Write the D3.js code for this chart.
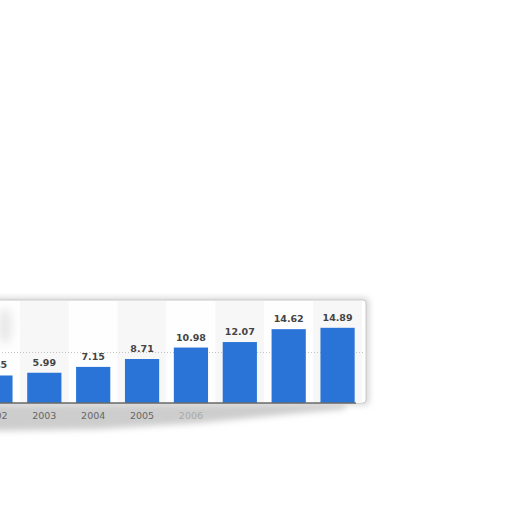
<!DOCTYPE html>
<html>
<head>
<meta charset="utf-8">
<script src="https://cdn.jsdelivr.net/npm/d3@7"></script>
<style>
  body { margin: 0; background: #fff; }
  svg { display: block; }
</style>
</head>
<body>
<div id="chart"></div>
<script>
var years = ['2002', '2003', '2004', '2005', '2006', '2007', '2008', '2009'];
var values = [5.45, 5.99, 7.15, 8.71, 10.98, 12.07, 14.62, 14.89];
var gridTicks = [10];

var width = 512, height = 512;

var svg = d3.select('#chart').append('svg')
    .attr('width', width)
    .attr('height', height);

var x = d3.scaleBand()
        .domain(years)
        .range([-29, 362])
        .paddingInner(0.3)
        .paddingOuter(0.15),
    y = d3.scaleLinear()
        .domain([0, 20])
        .range([403, 302]);

var defs = svg.append('defs');

defs.append('filter')
    .attr('id', 'blur')
    .attr('x', '-20%').attr('y', '-50%')
    .attr('width', '140%').attr('height', '200%')
  .append('feGaussianBlur')
    .attr('stdDeviation', 3);

defs.append('filter')
    .attr('id', 'soft')
    .attr('x', '-50%').attr('y', '-50%')
    .attr('width', '200%').attr('height', '200%')
  .append('feGaussianBlur')
    .attr('stdDeviation', 4);

// curled shadow under the panel
svg.append('path')
    .attr('d', 'M-10,404 L345,403 L345,409 L300,413 L200,423 L100,429 L-10,431 Z')
    .attr('fill', '#cdcdcd')
    .attr('filter', 'url(#blur)');

// panel shadow on top/right
svg.append('rect')
    .attr('x', -10).attr('y', 298)
    .attr('width', 379).attr('height', 107)
    .attr('rx', 4)
    .attr('fill', '#d4d4d4')
    .attr('filter', 'url(#blur)');

var panel = svg.append('g');

panel.append('rect')
    .attr('x', -10).attr('y', 300)
    .attr('width', 376).attr('height', 103)
    .attr('rx', 3)
    .attr('fill', '#fff')
    .attr('stroke', '#c9c9c9')
    .attr('stroke-width', 1);

// alternating column bands
var step = x.step();
panel.selectAll('.band')
    .data(years)
    .enter().append('rect')
    .attr('class', 'band')
    .attr('x', function(d) { return x(d) + x.bandwidth() / 2 - step / 2; })
    .attr('y', 301)
    .attr('width', step)
    .attr('height', 102)
    .attr('fill', function(d, i) { return i % 2 ? '#f7f7f7' : '#fefefe'; });

// faint blur top-left
panel.append('ellipse')
    .attr('cx', 5).attr('cy', 326)
    .attr('rx', 7).attr('ry', 18)
    .attr('fill', '#e8e8e8')
    .attr('filter', 'url(#soft)');

// gridline
panel.selectAll('.grid')
    .data(gridTicks)
    .enter().append('line')
    .attr('class', 'grid')
    .attr('x1', -10).attr('x2', 364)
    .attr('y1', function(d) { return y(d); })
    .attr('y2', function(d) { return y(d); })
    .attr('stroke', '#c4c4c4')
    .attr('stroke-dasharray', '1,2');

// bars
panel.selectAll('.bar')
    .data(values)
    .enter().append('rect')
    .attr('class', 'bar')
    .attr('x', function(d, i) { return x(years[i]); })
    .attr('y', function(d) { return y(d); })
    .attr('width', x.bandwidth())
    .attr('height', function(d) { return y(0) - y(d); })
    .attr('fill', '#2a74d8');

// value labels
panel.selectAll('.val')
    .data(values)
    .enter().append('text')
    .attr('class', 'val')
    .attr('x', function(d, i) { return x(years[i]) + x.bandwidth() / 2; })
    .attr('y', function(d) { return y(d) - 7; })
    .attr('text-anchor', 'middle')
    .style('font-family', 'DejaVu Sans, sans-serif')
    .style('font-size', '9.5px')
    .style('font-weight', 'bold')
    .style('fill', '#444')
    .text(function(d) { return d.toFixed(2); });

// baseline
panel.append('line')
    .attr('x1', -10).attr('x2', 356)
    .attr('y1', y(0)).attr('y2', y(0))
    .attr('stroke', '#6a6a6a')
    .attr('stroke-width', 1.5);

// year axis
var axis = svg.append('g')
    .attr('transform', 'translate(0,' + y(0) + ')')
    .call(d3.axisBottom(x).tickSize(0).tickPadding(9));
axis.select('.domain').remove();
axis.selectAll('text')
    .style('font-family', 'DejaVu Sans, sans-serif')
    .style('font-size', '9.5px')
    .style('fill', function(d, i) { return i < 4 ? '#666' : (i == 4 ? '#aaa' : 'none'); });
</script>
</body>
</html>
